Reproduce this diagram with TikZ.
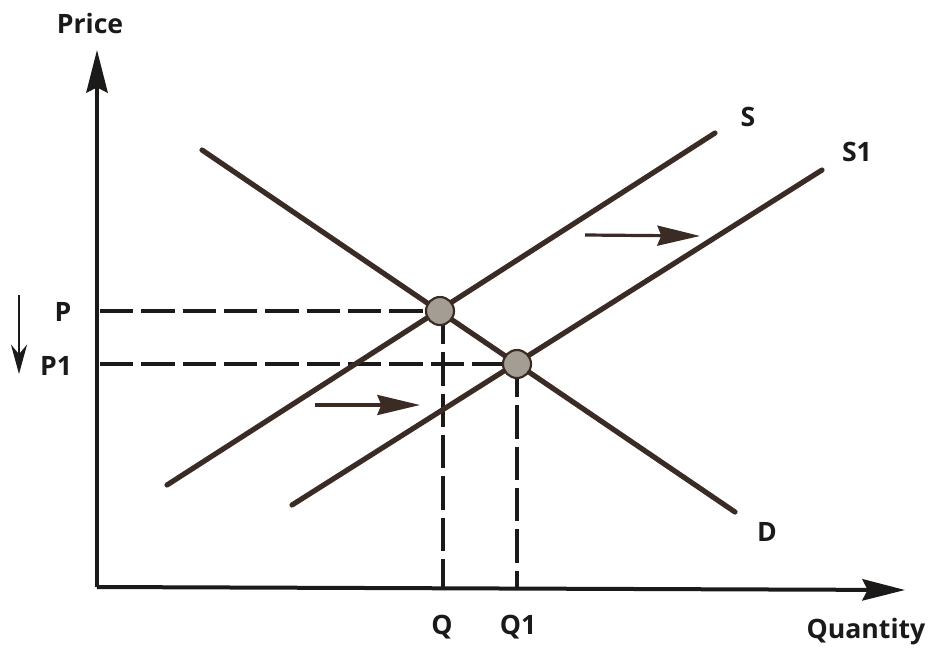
\documentclass[tikz,border=0pt]{standalone}
\usepackage{fontspec}
\setmainfont{Open Sans}
\usetikzlibrary{arrows.meta}
\definecolor{curve}{HTML}{3A2B24}
\definecolor{axis}{HTML}{1C1A19}
\definecolor{eqfill}{HTML}{A39D94}
\tikzset{
  lbl/.style={font=\fontsize{20}{24}\selectfont\bfseries, text=axis, inner sep=0pt},
  axisline/.style={draw=axis, line width=3pt, -{Stealth[length=32pt, width=16pt, inset=4pt]}},
  curveline/.style={draw=curve, line width=3.9pt, line cap=round},
  guide/.style={draw=axis, line width=2.3pt, dash pattern=on 25pt off 6pt},
  shiftarrow/.style={draw=curve, line width=2.4pt, -{Stealth[length=32pt, width=15pt, inset=3pt]}},
  eqpt/.style={circle, fill=eqfill, draw=curve, line width=1.6pt, minimum size=21pt, inner sep=0pt},
}
\begin{document}
\begin{tikzpicture}[x=0.75pt, y=-0.75pt]
\useasboundingbox (0,0) rectangle (936,650);
% axes
\coordinate (O) at (97,587);
\coordinate (Ytop) at (97,50);
\coordinate (Xend) at (905,590);
\draw[axisline] (O) -- (Ytop);
\draw[axisline] (O) -- (Xend);
% curve ends
\coordinate (S0) at (167,485);
\coordinate (S9) at (715,133);
\coordinate (T0) at (292,505);
\coordinate (T9) at (822,170);
\coordinate (D0) at (202,150);
\coordinate (D9) at (735,512);
% equilibria
\coordinate (E1) at (440,311);
\coordinate (E2) at (517,364);
% guides
\coordinate (Pa) at (100,311);
\coordinate (P1a) at (100,364);
\coordinate (Qa) at (443,587);
\coordinate (Q1a) at (517,587);
\draw[guide] (Pa) -- (E1);
\draw[guide] (P1a) -- (E2);
\draw[guide] (443,311) -- (Qa);
\draw[guide] (E2) -- (Q1a);
% curves
\draw[curveline] (S0) -- (S9);
\draw[curveline] (T0) -- (T9);
\draw[curveline] (D0) -- (D9);
\node[eqpt] (e1) at (E1) {};
\node[eqpt] (e2) at (E2) {};
% shift arrows
\coordinate (A1s) at (315,405);
\coordinate (A1e) at (420,405);
\coordinate (A2s) at (585,235);
\coordinate (A2e) at (700,236);
\draw[shiftarrow] (A1s) -- (A1e);
\draw[shiftarrow] (A2s) -- (A2e);
% price drop arrow
\coordinate (Ds) at (19,295);
\coordinate (De) at (19,374);
\draw[draw=axis, line width=2pt, -{Stealth[length=22pt, width=12pt]}] (Ds) -- (De);
% labels
\node[lbl] (price) at (90,23) {Price};
\node[lbl] (qty) at (866,632) {Quantity};
\node[lbl] (s) at (748,117) {S};
\node[lbl] (s1) at (857,152) {S1};
\node[lbl] (d) at (767,532) {D};
\node[lbl] (p) at (63,312) {P};
\node[lbl] (p1) at (56,366) {P1};
\node[lbl] (q) at (442,627) {Q};
\node[lbl] (q1) at (518,627) {Q1};
\end{tikzpicture}
\end{document}
